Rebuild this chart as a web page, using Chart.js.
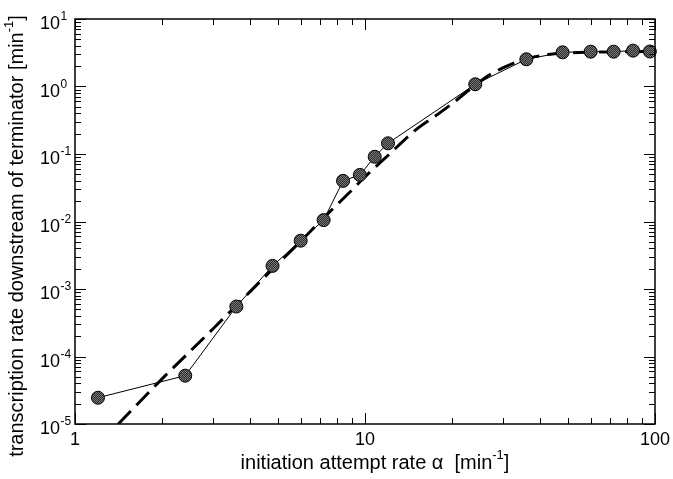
<!DOCTYPE html>
<html>
<head>
<meta charset="utf-8">
<script src="https://cdn.jsdelivr.net/npm/chart.js@4"></script>
<style>
  body { margin: 0; background: #fff; }
  #wrap { width: 673px; height: 479px; }
</style>
</head>
<body>
<div id="wrap"><canvas id="c" width="673" height="479"></canvas></div>
<script>
// measured points (circles + thin line)
var alphaMeasured = [1.2, 2.4, 3.6, 4.8, 6.0, 7.2, 8.4, 9.6, 10.8, 12, 24, 36, 48, 60, 72, 84, 96];
var rateMeasured = [2.45e-5, 5.2e-5, 5.5e-4, 2.2e-3, 5.2e-3, 1.05e-2, 4.0e-2, 4.9e-2, 9.1e-2, 1.44e-1,
                    1.08, 2.53, 3.21, 3.28, 3.28, 3.4, 3.3];

// theory curve (thick dashed)
var alphaTheory = [1.41, 2, 3, 4, 5, 6, 7, 8, 9, 10, 12, 15, 18, 20, 24, 27, 30, 35, 40, 45, 50, 60, 70, 80, 100];
var rateTheory = [1.0e-5, 4.7e-5, 2.6e-4, 9.0e-4, 2.35e-3, 5.1e-3, 1.0e-2, 1.77e-2, 2.9e-2, 4.6e-2,
                  9.5e-2, 0.23, 0.40, 0.56, 1.05, 1.5, 1.9, 2.5, 2.85, 3.05, 3.15, 3.22, 3.25, 3.27, 3.3];

var xTickValues = [1, 10, 100];
var xTickLabels = ["1", "10", "100"];
var yTickValues = [1e-5, 1e-4, 1e-3, 1e-2, 1e-1, 1, 10];
var yTickExponents = ["-5", "-4", "-3", "-2", "-1", "0", "1"];

var FONT = "'Liberation Sans', Arial, Helvetica, sans-serif";

function toXY(xs, ys) {
  return xs.map((x, i) => ({ x: x, y: ys[i] }));
}

var ctx0 = document.getElementById("c").getContext("2d");
function hatchPattern() {
  var c = document.createElement("canvas");
  c.width = 2; c.height = 2;
  var g = c.getContext("2d");
  g.fillStyle = "#2e2e2e";
  g.fillRect(0, 0, 2, 2);
  g.fillStyle = "#767676";
  g.fillRect(0, 0, 1, 1);
  g.fillRect(1, 1, 1, 1);
  return ctx0.createPattern(c, "repeat");
}

// draws a run of [text, isSuperscript] pieces, titles use a slightly bigger font
function drawParts(ctx, parts, x, y, align) {
  var big = "20px " + FONT, small = "13px " + FONT;
  var w = 0;
  parts.forEach((p) => { ctx.font = p[1] ? small : big; w += ctx.measureText(p[0]).width; });
  var cx = align == "center" ? x - w / 2 : align == "right" ? x - w : x;
  ctx.textAlign = "left";
  ctx.textBaseline = "alphabetic";
  parts.forEach((p) => {
    ctx.font = p[1] ? small : big;
    ctx.fillText(p[0], cx, p[1] ? y - 10 : y);
    cx += ctx.measureText(p[0]).width;
  });
}

var framePlugin = {
  id: "frame",
  afterDraw(chart) {
    var ctx = chart.ctx, a = chart.chartArea;
    var xs = chart.scales.x, ys = chart.scales.y;
    ctx.save();
    ctx.strokeStyle = "#000";
    ctx.fillStyle = "#000";
    ctx.lineWidth = 1.5;
    ctx.strokeRect(a.left, a.top, a.right - a.left, a.bottom - a.top);

    ctx.lineWidth = 1;
    ctx.beginPath();
    // x ticks, top and bottom, pointing inward
    for (var d = 0; d <= 2; d++) {
      for (var k = 1; k <= 9; k++) {
        var v = k * Math.pow(10, d);
        if (v > 100) break;
        var px = Math.round(xs.getPixelForValue(v)) + 0.5;
        var len = k == 1 ? 11 : 6;
        ctx.moveTo(px, a.bottom); ctx.lineTo(px, a.bottom - len);
        ctx.moveTo(px, a.top); ctx.lineTo(px, a.top + len);
      }
    }
    // y ticks, left and right
    for (var e = -5; e <= 1; e++) {
      for (var k = 1; k <= 9; k++) {
        var v = k * Math.pow(10, e);
        if (v > 10) break;
        var py = Math.round(ys.getPixelForValue(v)) + 0.5;
        var len = k == 1 ? 11 : 6;
        ctx.moveTo(a.left, py); ctx.lineTo(a.left + len, py);
        ctx.moveTo(a.right, py); ctx.lineTo(a.right - len, py);
      }
    }
    ctx.stroke();

    // x tick labels
    ctx.font = "18px " + FONT;
    ctx.textAlign = "center";
    ctx.textBaseline = "alphabetic";
    xTickValues.forEach((v, i) => {
      ctx.fillText(xTickLabels[i], xs.getPixelForValue(v), 445);
    });

    // y tick labels 10^n
    yTickValues.forEach((v, i) => {
      var py = ys.getPixelForValue(v);
      ctx.font = "18px " + FONT;
      ctx.textAlign = "right";
      ctx.fillText("10", 60, py + 10);
      ctx.font = "12px " + FONT;
      ctx.textAlign = "left";
      ctx.fillText(yTickExponents[i], 60.5, py + 1);
    });

    // axis titles
    drawParts(ctx, [["initiation attempt rate \u03b1  [min", false], ["-1", true], ["]", false]], 375, 469, "center");
    ctx.translate(23, 236);
    ctx.rotate(-Math.PI / 2);
    drawParts(ctx, [["transcription rate downstream of terminator [min", false], ["-1", true], ["]", false]], 0, 0, "center");
    ctx.restore();
  },
};

new Chart(document.getElementById("c"), {
  type: "line",
  data: {
    datasets: [
      {
        label: "measured",
        data: toXY(alphaMeasured, rateMeasured),
        borderColor: "#000",
        borderWidth: 1,
        pointRadius: 6.5,
        pointBorderWidth: 1,
        pointBorderColor: "#000",
        pointBackgroundColor: hatchPattern(),
        clip: false,
        order: 0,
      },
      {
        label: "theory",
        data: toXY(alphaTheory, rateTheory),
        borderColor: "#000",
        borderWidth: 3,
        borderDash: [18, 8],
        pointRadius: 0,
        cubicInterpolationMode: "monotone",
        order: 1,
      },
    ],
  },
  options: {
    responsive: false,
    animation: false,
    events: [],
    layout: { padding: { left: 75, right: 18, top: 19, bottom: 55 } },
    plugins: { legend: { display: false }, tooltip: { enabled: false } },
    scales: {
      x: {
        type: "logarithmic",
        min: 1,
        max: 100,
        ticks: { display: false },
        grid: { display: false },
        border: { display: false },
        afterFit(s) { s.height = 0; },
      },
      y: {
        type: "logarithmic",
        min: 1e-5,
        max: 10,
        ticks: { display: false },
        grid: { display: false },
        border: { display: false },
        afterFit(s) { s.width = 0; },
      },
    },
  },
  plugins: [framePlugin],
});
</script>
</body>
</html>
